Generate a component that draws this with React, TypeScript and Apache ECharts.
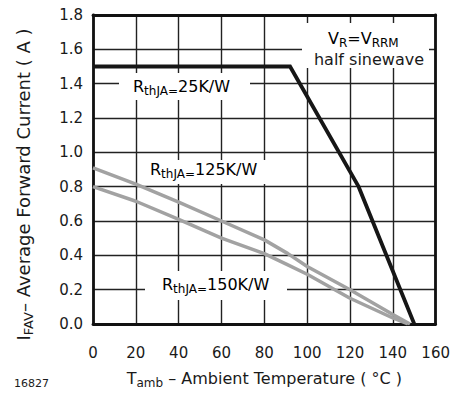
import React, { useEffect, useRef } from "react";
import * as echarts from "echarts";

const xTicks = [0, 20, 40, 60, 80, 100, 120, 140, 160];
const yTicks = [0, 0.2, 0.4, 0.6, 0.8, 1.0, 1.2, 1.4, 1.6, 1.8];

const temps25 = [0, 92, 124, 150];
const vals25 = [1.5, 1.5, 0.8, 0];

const temps125 = [0, 20, 40, 60, 80, 91, 100, 120, 140, 148];
const vals125 = [0.91, 0.815, 0.71, 0.6, 0.49, 0.41, 0.335, 0.2, 0.055, 0];

const temps150 = [0, 20, 40, 60, 80, 90, 100, 120, 140, 147];
const vals150 = [0.8, 0.715, 0.61, 0.5, 0.41, 0.35, 0.29, 0.15, 0.035, 0];

const FONT = "DejaVu Sans";
const TXT = "#1a1a1a";
const GRIDC = "#222222";

const pairs = (xs: number[], ys: number[]) => xs.map((x, i) => [x, ys[i]]);

const mkRich = (n: number, s: number, lh: number) => ({
  n: { fontSize: n, fontFamily: FONT, color: TXT, lineHeight: lh, verticalAlign: "middle" },
  s: { fontSize: s, fontFamily: FONT, color: TXT, lineHeight: lh, verticalAlign: "bottom" },
});
const rich = mkRich(16, 12, 21);

function label(x: number, y: number, text: string, box: number[]) {
  return [
    {
      type: "rect",
      z: 1,
      shape: { x: box[0], y: box[1], width: box[2] - box[0], height: box[3] - box[1] },
      style: { fill: "#ffffff" },
    },
    {
      type: "text",
      z: 1,
      x,
      y,
      style: { text, rich, align: "left", verticalAlign: "middle" },
    },
  ];
}

export default function App() {
  const ref = useRef<HTMLDivElement>(null);
  useEffect(() => {
    if (!ref.current) return;
    const chart = echarts.init(ref.current, undefined, { renderer: "svg" });
    chart.setOption({
      animation: false,
      grid: { left: 93, right: 14, top: 15, bottom: 67 },
      xAxis: [
        {
          type: "value",
          min: xTicks[0],
          max: xTicks[xTicks.length - 1],
          interval: 20,
          axisLine: { show: true, onZero: false, lineStyle: { color: "#111", width: 2.8 } },
          axisTick: { show: false },
          splitLine: { show: true, lineStyle: { color: GRIDC, width: 1.4 } },
          axisLabel: { fontFamily: FONT, fontSize: 15, color: TXT, margin: 21 },
          name: "{n|T}{s|amb}{n| – Ambient Temperature ( °C )}",
          nameLocation: "middle",
          nameGap: 44,
          nameTextStyle: { rich: mkRich(16, 12, 21) },
        },
        {
          type: "value",
          position: "top",
          min: xTicks[0],
          max: xTicks[xTicks.length - 1],
          interval: 20,
          axisLine: { show: true, onZero: false, lineStyle: { color: "#111", width: 2.8 } },
          axisTick: { show: false },
          axisLabel: { show: false },
          splitLine: { show: false },
        },
      ],
      yAxis: [
        {
          type: "value",
          min: yTicks[0],
          max: yTicks[yTicks.length - 1],
          interval: 0.2,
          axisLine: { show: true, onZero: false, lineStyle: { color: "#111", width: 2.8 } },
          axisTick: { show: false },
          splitLine: { show: true, lineStyle: { color: GRIDC, width: 1.4 } },
          axisLabel: {
            fontFamily: FONT,
            fontSize: 15,
            color: TXT,
            margin: 10,
            formatter: (v: number) => v.toFixed(1),
          },
          name: "{n|I}{s|FAV}{n|– Average Forward Current ( A )}",
          nameLocation: "middle",
          nameRotate: 90,
          nameGap: 58,
          nameTextStyle: { rich: mkRich(18, 13, 23), padding: [0, 30, 0, 0] },
        },
        {
          type: "value",
          position: "right",
          min: yTicks[0],
          max: yTicks[yTicks.length - 1],
          interval: 0.2,
          axisLine: { show: true, onZero: false, lineStyle: { color: "#111", width: 2.8 } },
          axisTick: { show: false },
          axisLabel: { show: false },
          splitLine: { show: false },
        },
      ],
      graphic: [
        ...label(328, 38, "{n|V}{s|R}{n|=V}{s|RRM}", [302, 23, 429, 68]),
        {
          type: "text",
          z: 1,
          x: 369,
          y: 59,
          style: { text: "half sinewave", font: `16px "${FONT}"`, fill: TXT, align: "center", verticalAlign: "middle" },
        },
        ...label(133, 86, "{n|R}{s|thJA=}{n|25K/W}", [119, 73, 250, 100]),
        ...label(150, 169, "{n|R}{s|thJA=}{n|125K/W}", [140, 160, 270, 184]),
        ...label(162, 284, "{n|R}{s|thJA=}{n|150K/W}", [145, 271, 287, 300]),
        {
          type: "text",
          x: 14,
          y: 383,
          style: { text: "16827", font: `11px "${FONT}"`, fill: TXT, align: "left", verticalAlign: "middle" },
        },
      ],
      series: [
        {
          type: "line",
          name: "25K/W",
          data: pairs(temps25, vals25),
          showSymbol: false,
          z: 3,
          lineStyle: { color: "#161616", width: 3.8, join: "miter" },
        },
        {
          type: "line",
          name: "125K/W",
          data: pairs(temps125, vals125),
          showSymbol: false,
          z: 2,
          lineStyle: { color: "#a2a2a2", width: 3.5 },
        },
        {
          type: "line",
          name: "150K/W",
          data: pairs(temps150, vals150),
          showSymbol: false,
          z: 2,
          lineStyle: { color: "#a2a2a2", width: 3.5 },
        },
      ],
    });
    return () => chart.dispose();
  }, []);
  return <div ref={ref} style={{ width: 453, height: 394, position: "absolute", left: 0, top: 0 }} />;
}
